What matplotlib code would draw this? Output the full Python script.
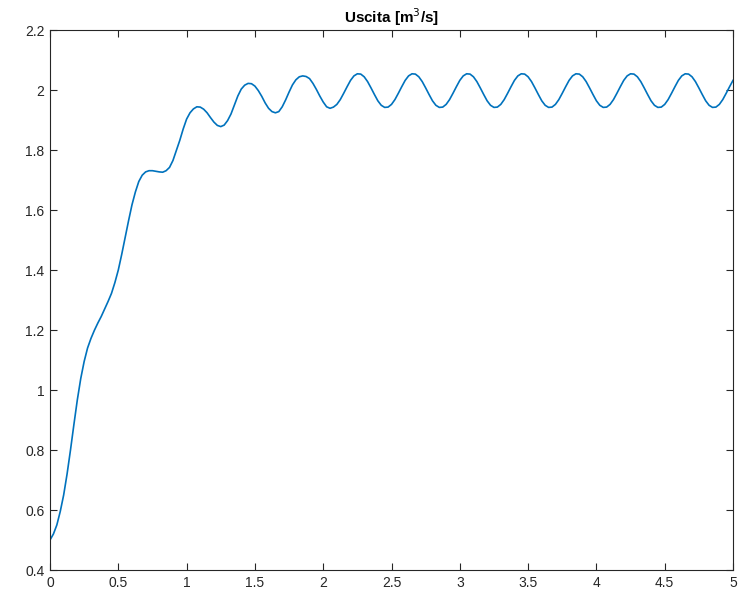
import numpy as np
import matplotlib
matplotlib.use("Agg")
import matplotlib.pyplot as plt
from matplotlib.ticker import FuncFormatter

# tempo di campionamento [s]
dt = 0.025

# transitorio iniziale, da t=0 a t=2.05
uscita_trans = [
    0.500, 0.520, 0.550, 0.595, 0.650, 0.720, 0.800, 0.885, 0.967, 1.038,
    1.095, 1.140, 1.172, 1.199, 1.223, 1.245, 1.270, 1.295, 1.322, 1.358,
    1.400, 1.452, 1.508, 1.564, 1.617, 1.660, 1.695, 1.716, 1.727, 1.731,
    1.731, 1.729, 1.727, 1.726, 1.731, 1.742, 1.765, 1.798, 1.832, 1.870,
    1.903, 1.924, 1.937, 1.944, 1.943, 1.936, 1.924, 1.908, 1.893, 1.882,
    1.878, 1.883, 1.898, 1.920, 1.950, 1.980, 2.003, 2.016, 2.022, 2.021,
    2.013, 1.998, 1.979, 1.957, 1.939, 1.928, 1.924, 1.928, 1.944, 1.967,
    1.993, 2.017, 2.034, 2.044, 2.047, 2.045, 2.038, 2.022, 2.002, 1.980,
    1.960, 1.944, 1.939,
]

# regime oscillante, da t=2.075 a t=5
uscita_regime = [
    1.943, 1.952, 1.968, 1.989, 2.011, 2.032, 2.047, 2.054, 2.053, 2.044, 2.028, 2.007, 1.985, 1.964, 1.949, 1.942,
    1.943, 1.952, 1.968, 1.989, 2.011, 2.032, 2.047, 2.054, 2.053, 2.044, 2.028, 2.007, 1.985, 1.964, 1.949, 1.942,
    1.943, 1.952, 1.968, 1.989, 2.011, 2.032, 2.047, 2.054, 2.053, 2.044, 2.028, 2.007, 1.985, 1.964, 1.949, 1.942,
    1.943, 1.952, 1.968, 1.989, 2.011, 2.032, 2.047, 2.054, 2.053, 2.044, 2.028, 2.007, 1.985, 1.964, 1.949, 1.942,
    1.943, 1.952, 1.968, 1.989, 2.011, 2.032, 2.047, 2.054, 2.053, 2.044, 2.028, 2.007, 1.985, 1.964, 1.949, 1.942,
    1.943, 1.952, 1.968, 1.989, 2.011, 2.032, 2.047, 2.054, 2.053, 2.044, 2.028, 2.007, 1.985, 1.964, 1.949, 1.942,
    1.943, 1.952, 1.968, 1.989, 2.011, 2.032, 2.047, 2.054, 2.053, 2.044, 2.028, 2.007, 1.985, 1.964, 1.949, 1.942,
    1.943, 1.952, 1.968, 1.989, 2.011, 2.032,
]

uscita = np.array(uscita_trans + uscita_regime)
t = np.arange(len(uscita)) * dt

x_ticks = [0, 0.5, 1, 1.5, 2, 2.5, 3, 3.5, 4, 4.5, 5]
y_ticks = [0.4, 0.6, 0.8, 1, 1.2, 1.4, 1.6, 1.8, 2, 2.2]

plt.rcParams['font.family'] = ['Liberation Sans', 'DejaVu Sans']
ax_col = "#262626"

fig = plt.figure(figsize=(7.48, 5.90), dpi=100)
ax = fig.add_axes([50 / 748, 20 / 590, 683 / 748, 540 / 590])

ax.plot(t, uscita, color="#0072BD", linewidth=1.2)

ax.set_xlim(0, 5)
ax.set_ylim(0.4, 2.2)
ax.set_xticks(x_ticks)
ax.set_yticks(y_ticks)
fmt = FuncFormatter(lambda v, p: "%g" % round(v, 3))
ax.xaxis.set_major_formatter(fmt)
ax.yaxis.set_major_formatter(fmt)

ax.tick_params(direction="in", length=5, width=0.8, top=True, right=True,
               labelsize=10, colors=ax_col, pad=4)
for s in ax.spines.values():
    s.set_color(ax_col)
    s.set_linewidth(0.8)

ax.set_title("Uscita [m$^3$/s]", fontsize=11, fontweight="bold", color="black", pad=5)

fig.savefig("out.png", dpi=100)
